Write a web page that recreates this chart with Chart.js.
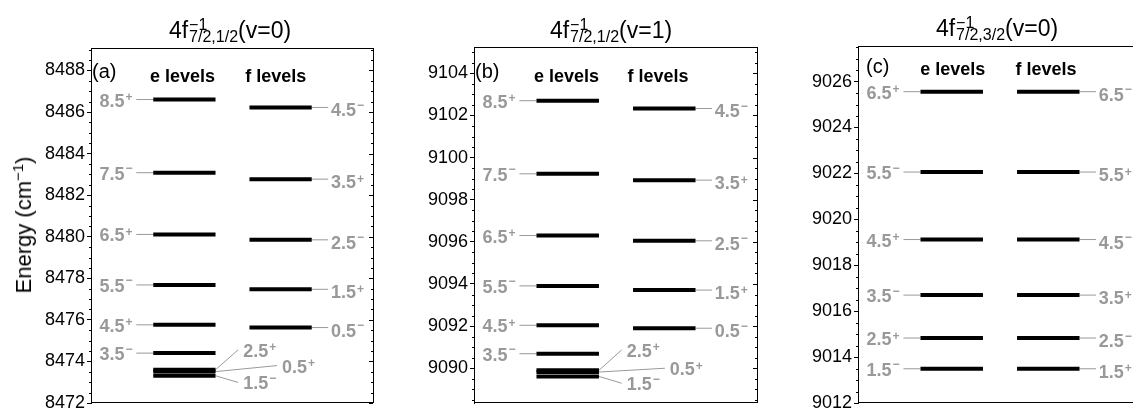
<!DOCTYPE html>
<html>
<head>
<meta charset="utf-8">
<script src="https://cdn.jsdelivr.net/npm/chart.js@4.4.1/dist/chart.umd.min.js"></script>
<style>
  html, body { margin: 0; padding: 0; background: #fff; }
  body { width: 1133px; height: 416px; overflow: hidden; position: relative;
         font-family: "Liberation Sans", Arial, sans-serif; color: #000; }
  canvas { position: absolute; top: 0; }
  .title { position: absolute; font-size: 23px; line-height: 22px; white-space: nowrap;
           transform: translateX(-50%); }
  .stack { display: inline-block; font-size: 16px; line-height: 12px; vertical-align: -4px; margin-left: 1px; }
  .stack span { display: block; }
  .ylabel { position: absolute; left: 24px; top: 225px; font-size: 22px; line-height: 22px;
            white-space: nowrap; transform: translate(-50%, -50%) rotate(-90deg); }
  .ylabel sup { font-size: 15px; line-height: 0; vertical-align: 8px; }
</style>
</head>
<body>
<canvas id="panelA" width="354" height="416" style="left:21px"></canvas>
<canvas id="panelB" width="355" height="416" style="left:404px"></canvas>
<canvas id="panelC" width="355" height="416" style="left:788px"></canvas>

<div class="title" style="left:230px; top:19px">4f<span class="stack"><span>−1</span><span>7/2,1/2</span></span>(v=0)</div>
<div class="title" style="left:611px; top:19px">4f<span class="stack"><span>−1</span><span>7/2,1/2</span></span>(v=1)</div>
<div class="title" style="left:997px; top:17px">4f<span class="stack"><span>−1</span><span>7/2,3/2</span></span>(v=0)</div>
<div class="ylabel">Energy (cm<sup>−1</sup>)</div>

<script>
// (a) 4f-1 7/2,1/2 (v=0)
const aTicks = [8472, 8474, 8476, 8478, 8480, 8482, 8484, 8486, 8488];
const aRange = [8472, 8489.08];
const aELabels = ['8.5+', '7.5−', '6.5+', '5.5−', '4.5+', '3.5−', '2.5+', '0.5+', '1.5−'];
const aEEnergy = [8486.60, 8483.08, 8480.11, 8477.68, 8475.76, 8474.40, 8473.60, 8473.51, 8473.31];
const aFLabels = ['4.5−', '3.5+', '2.5−', '1.5+', '0.5−'];
const aFEnergy = [8486.22, 8482.77, 8479.85, 8477.47, 8475.63];

// (b) 4f-1 7/2,1/2 (v=1)
const bTicks = [9090, 9092, 9094, 9096, 9098, 9100, 9102, 9104];
const bRange = [9088.35, 9105.25];
const bELabels = ['8.5+', '7.5−', '6.5+', '5.5−', '4.5+', '3.5−', '2.5+', '0.5+', '1.5−'];
const bEEnergy = [9102.70, 9099.23, 9096.30, 9093.91, 9092.04, 9090.69, 9089.90, 9089.82, 9089.61];
const bFLabels = ['4.5−', '3.5+', '2.5−', '1.5+', '0.5−'];
const bFEnergy = [9102.33, 9098.93, 9096.05, 9093.71, 9091.90];

// (c) 4f-1 7/2,3/2 (v=0)
const cTicks = [9012, 9014, 9016, 9018, 9020, 9022, 9024, 9026];
const cRange = [9012, 9027.55];
const cELabels = ['6.5+', '5.5−', '4.5+', '3.5−', '2.5+', '1.5−'];
const cEEnergy = [9025.56, 9022.06, 9019.12, 9016.70, 9014.83, 9013.49];
const cFLabels = ['6.5−', '5.5+', '4.5−', '3.5+', '2.5−', '1.5+'];
const cFEnergy = [9025.56, 9022.06, 9019.12, 9016.70, 9014.83, 9013.49];

const FONT = '"Liberation Sans", Arial, sans-serif';
const GRAY = '#999999';
const H = 416;

// columns, as fractions of the plot width
const COL = { eBar: [0.22, 0.44], fBar: [0.56, 0.78], eLink: 0.16, fLink: 0.838, eText: 0.03, fText: 0.848 };

const panels = [
    {
        id: 'panelA', letter: '(a)', ticks: aTicks, range: aRange,
        eLabels: aELabels, eEnergy: aEEnergy, fLabels: aFLabels, fEnergy: aFEnergy,
        area: { top: 48, bottom: 403 }, letterPos: [1, 29.5], headY: 34, headX: [0.323, 0.653],
        // crowded levels: [end x, energy shift]
        fan: { '2.5+': [0.52, 0.96], '0.5+': [0.657, 0.29], '1.5−': [0.52, -0.32] }
    },
    {
        id: 'panelB', letter: '(b)', ticks: bTicks, range: bRange,
        eLabels: bELabels, eEnergy: bEEnergy, fLabels: bFLabels, fEnergy: bFEnergy,
        area: { top: 47, bottom: 403 }, letterPos: [1, 30.5], headY: 35, headX: [0.326, 0.648],
        fan: { '2.5+': [0.52, 0.97], '0.5+': [0.672, 0.18], '1.5−': [0.52, -0.32] }
    },
    {
        id: 'panelC', letter: '(c)', ticks: cTicks, range: cRange,
        eLabels: cELabels, eEnergy: cEEnergy, fLabels: cFLabels, fEnergy: cFEnergy,
        area: { top: 46, bottom: 403 }, letterPos: [8, 26.5], headY: 29, headX: [0.334, 0.662],
        fan: {}
    }
];


function seg(x0, y0, x1, y1, color, width) {
    return {
        data: [{ x: x0, y: y0 }, { x: x1, y: y1 }],
        showLine: true,
        borderColor: color,
        borderWidth: width,
        borderCapStyle: 'butt',
        pointRadius: 0,
        pointHoverRadius: 0,
        fill: false
    };
}


function drawTag(ctx, text, x, y) {
    const main = text.slice(0, -1);
    const sign = text.slice(-1);
    ctx.fillStyle = GRAY;
    ctx.textAlign = 'left';
    ctx.font = 'bold 18px ' + FONT;
    ctx.textBaseline = 'middle';
    ctx.fillText(main, x, y);
    const w = ctx.measureText(main).width;
    ctx.font = 'bold 12px ' + FONT;
    ctx.textBaseline = 'alphabetic';
    ctx.fillText(sign, x + w + 1, sign === '+' ? y - 0.5 : y - 2.5);
}


function overlay(p) {
    return {
        id: 'overlay',
        afterDraw(chart) {
            const { ctx, chartArea: a, scales: { x, y } } = chart;
            ctx.save();

            // frame and minor ticks
            ctx.strokeStyle = '#000';
            ctx.lineWidth = 1;
            ctx.strokeRect(a.left + 0.5, a.top + 0.5, a.right - a.left - 1, a.bottom - a.top - 1);
            ctx.beginPath();
            for (let v = Math.ceil(y.min * 2) / 2; v <= y.max; v += 0.5) {
                const py = Math.round(y.getPixelForValue(v)) + 0.5;
                const major = p.ticks.includes(v);
                if (!major) {
                    ctx.moveTo(a.left - 2, py);
                    ctx.lineTo(a.left, py);
                }
                ctx.moveTo(a.right - 1, py);
                ctx.lineTo(a.right - (major ? 5 : 3), py);
            }
            ctx.stroke();

            // panel letter and column heads
            ctx.fillStyle = '#000';
            ctx.textBaseline = 'alphabetic';
            ctx.textAlign = 'left';
            ctx.font = '20px ' + FONT;
            ctx.fillText(p.letter, a.left + p.letterPos[0], a.top + p.letterPos[1]);
            ctx.font = 'bold 18px ' + FONT;
            ctx.textAlign = 'center';
            ctx.fillText('e levels', x.getPixelForValue(p.headX[0]), a.top + p.headY);
            ctx.fillText('f levels', x.getPixelForValue(p.headX[1]), a.top + p.headY);

            // level labels
            p.eLabels.forEach((lab, i) => {
                const E = p.eEnergy[i];
                const fan = p.fan[lab];
                if (fan) {
                    const px = x.getPixelForValue(fan[0]) + 5;
                    const py = y.getPixelForValue(E + fan[1]) + 2;
                    drawTag(ctx, lab, px, py);
                } else {
                    drawTag(ctx, lab, x.getPixelForValue(COL.eText), y.getPixelForValue(E) + 2);
                }
            });
            p.fLabels.forEach((lab, i) => {
                drawTag(ctx, lab, x.getPixelForValue(COL.fText), y.getPixelForValue(p.fEnergy[i]) + 4);
            });
            ctx.restore();
        }
    };
}


function buildPanel(p) {
    const datasets = [];
    for (const E of p.eEnergy) datasets.push(seg(COL.eBar[0], E, COL.eBar[1], E, '#000', 4));
    for (const E of p.fEnergy) datasets.push(seg(COL.fBar[0], E, COL.fBar[1], E, '#000', 4));
    p.eLabels.forEach((lab, i) => {
        const E = p.eEnergy[i];
        const fan = p.fan[lab];
        if (fan) datasets.push(seg(COL.eBar[1], E, fan[0], E + fan[1], GRAY, 1));
        else datasets.push(seg(COL.eLink, E, COL.eBar[0], E, GRAY, 1));
    });
    for (const E of p.fEnergy) datasets.push(seg(COL.fBar[1], E, COL.fLink, E, GRAY, 1));

    return new Chart(document.getElementById(p.id), {
        type: 'scatter',
        data: { datasets },
        options: {
            responsive: false,
            animation: false,
            events: [],
            layout: { padding: { top: p.area.top, bottom: H - p.area.bottom, left: 0, right: 1 } },
            plugins: { legend: { display: false }, tooltip: { enabled: false } },
            scales: {
                x: { type: 'linear', min: 0, max: 1, display: false },
                y: {
                    type: 'linear',
                    min: p.range[0],
                    max: p.range[1],
                    afterBuildTicks: s => { s.ticks = p.ticks.map(v => ({ value: v })); },
                    afterFit: s => { s.width = 70; },
                    ticks: {
                        color: '#000',
                        padding: 2,
                        font: { family: FONT, size: 18, lineHeight: 1 },
                        callback: v => String(v)
                    },
                    grid: { drawOnChartArea: false, drawTicks: true, tickLength: 4, color: '#000' },
                    border: { display: true, color: '#000' }
                }
            }
        },
        plugins: [overlay(p)]
    });
}

panels.forEach(buildPanel);
</script>
</body>
</html>
